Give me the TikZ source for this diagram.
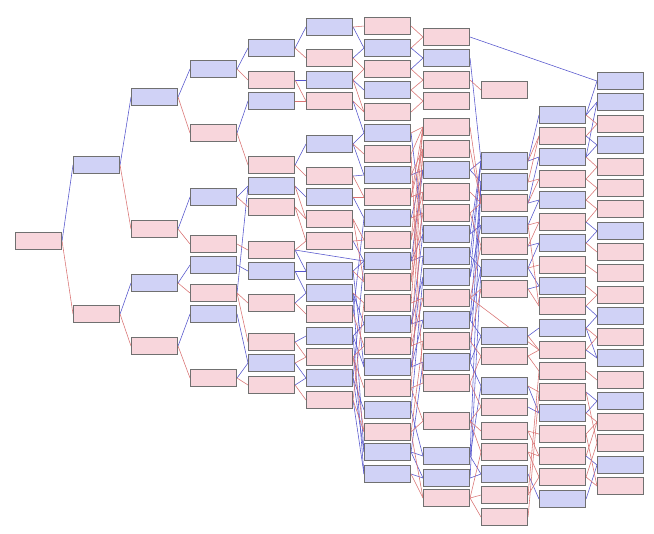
\documentclass[tikz,border=0pt]{standalone}
\usepackage{tikz}
\usetikzlibrary{backgrounds}
\definecolor{BoxBlue} {RGB}{208, 210, 246}
\definecolor{BoxPink} {RGB}{248, 214, 220}
\definecolor{BoxLine} {RGB}{112, 112, 112}
\definecolor{EdgeBlue}{RGB}{ 85,  85, 205}
\definecolor{EdgeRed} {RGB}{218, 115, 115}

\begin{document}
\begin{tikzpicture}[
  x=0.5mm, y=-0.5mm,
  box/.style={
    draw=BoxLine, line width=1.5pt,
    rectangle, anchor=north west, inner sep=0pt,
    minimum width=23mm, minimum height=8.5mm
  },
  blue box/.style={box, fill=BoxBlue},
  pink box/.style={box, fill=BoxPink},
  bline/.style={EdgeBlue, line width=0.8pt},
  rline/.style={EdgeRed, line width=0.8pt}
]
\useasboundingbox (0,0) rectangle (654,533);

% columns of the tree, left to right
\foreach \y/\k [count=\i] in {232/pink}
  \node[\k\space box] (c0-\i) at (15,\y) {};
\foreach \y/\k [count=\i] in {156/blue,305/pink}
  \node[\k\space box] (c1-\i) at (73,\y) {};
\foreach \y/\k [count=\i] in {88/blue,220/pink,274/blue,337/pink}
  \node[\k\space box] (c2-\i) at (131,\y) {};
\foreach \y/\k [count=\i] in {60/blue,124/pink,188/blue,235/pink,
    256/blue,284/pink,305/blue,369/pink}
  \node[\k\space box] (c3-\i) at (190,\y) {};
\foreach \y/\k [count=\i] in {39/blue,71/pink,92/blue,156/pink,
    177/blue,198/pink,241/pink,262/blue,294/pink,333/pink,354/blue,
    376/pink}
  \node[\k\space box] (c4-\i) at (248,\y) {};
\foreach \y/\k [count=\i] in {18/blue,49/pink,71/blue,92/pink,
    135/blue,167/pink,188/blue,210/pink,232/pink,262/blue,284/blue,
    305/pink,327/blue,348/pink,369/blue,391/pink}
  \node[\k\space box] (c5-\i) at (306,\y) {};
\foreach \y/\k [count=\i] in {17/pink,39/blue,60/pink,81/blue,
    103/pink,124/blue,145/pink,166/blue,188/pink,209/blue,231/pink,
    252/blue,273/pink,294/pink,315/blue,337/pink,358/blue,379/pink,
    401/blue,423/pink,443/blue,465/blue}
  \node[\k\space box] (c6-\i) at (364,\y) {};
\foreach \y/\k [count=\i] in {28/pink,49/blue,71/pink,92/pink,
    118/pink,140/pink,161/blue,183/pink,204/pink,225/blue,247/blue,
    268/blue,289/pink,311/blue,332/pink,353/blue,374/pink,412/pink,
    447/blue,469/blue,489/pink}
  \node[\k\space box] (c7-\i) at (423,\y) {};
\foreach \y/\k [count=\i] in {81/pink,152/blue,173/blue,194/pink,
    216/blue,237/pink,259/blue,280/pink,327/blue,347/pink,377/blue,
    398/pink,422/pink,443/pink,465/blue,486/pink,508/pink}
  \node[\k\space box] (c8-\i) at (481,\y) {};
\foreach \y/\k [count=\i] in {106/blue,127/pink,148/blue,170/pink,
    191/blue,213/pink,234/blue,256/pink,277/blue,297/pink,319/blue,
    341/pink,362/pink,383/pink,404/blue,425/pink,447/pink,468/pink,
    490/blue}
  \node[\k\space box] (c9-\i) at (539,\y) {};
\foreach \y/\k [count=\i] in {72/blue,93/blue,115/pink,136/blue,
    158/pink,179/pink,200/pink,222/blue,243/pink,264/pink,286/pink,
    307/blue,328/pink,349/blue,371/pink,392/blue,413/pink,434/pink,
    456/blue,477/pink}
  \node[\k\space box] (c10-\i) at (597,\y) {};

\begin{pgfonlayer}{background}
\fill[white] (0,0) rectangle (654,533);

% edges into blue boxes
\foreach \a/\b in {
    c0-1/c1-1, c1-1/c2-1, c1-2/c2-3, c2-1/c3-1, c2-2/c3-3, c2-3/c3-5,
    c2-4/c3-7, c3-1/c4-1, c3-2/c4-3, c3-3/c4-5, c3-5/c4-8, c3-8/c4-11,
    c3-6/c4-5, c3-7/c4-11,
    c4-1/c5-1, c4-2/c5-3, c4-4/c5-5, c4-5/c5-7, c4-7/c5-10, c4-8/c5-10,
    c4-8/c5-11, c4-9/c5-11, c4-10/c5-13, c4-11/c5-15, c4-12/c5-15,
    c4-7/c6-12,
    c5-1/c6-2, c5-2/c6-2, c5-3/c6-4, c5-4/c6-6, c5-5/c6-6, c5-6/c6-8,
    c5-5/c6-8, c5-7/c6-10, c5-12/c6-10, c5-9/c6-12, c5-10/c6-12,
    c5-15/c6-12, c5-11/c6-15, c5-13/c6-15, c5-13/c6-17, c5-10/c6-17,
    c5-15/c6-19, c5-15/c6-21, c5-11/c6-21, c5-16/c6-22, c5-13/c6-22,
    c6-2/c7-2, c6-3/c7-2, c6-8/c7-7, c6-10/c7-7, c6-12/c7-7,
    c6-12/c7-10, c6-15/c7-10, c6-6/c7-10, c6-12/c7-11, c6-17/c7-11,
    c6-15/c7-12, c6-19/c7-12, c6-15/c7-14, c6-17/c7-14, c6-17/c7-16,
    c6-21/c7-16, c6-19/c7-19, c6-21/c7-19, c6-21/c7-20, c6-22/c7-20,
    c7-2/c8-2, c7-7/c8-2, c7-10/c8-2, c7-11/c8-2, c7-12/c8-2,
    c7-7/c8-3, c7-14/c8-3, c7-16/c8-3, c7-19/c8-3, c7-10/c8-5,
    c7-12/c8-5, c7-11/c8-7, c7-14/c8-7, c7-20/c8-7, c7-16/c8-9,
    c7-14/c8-9, c7-16/c8-11, c7-19/c8-11, c7-19/c8-15, c7-20/c8-15,
    c7-1/c10-1,
    c8-2/c9-1, c8-2/c9-3, c8-4/c9-3, c8-4/c9-5, c8-5/c9-5, c8-6/c9-7,
    c8-7/c9-7, c8-7/c9-9, c8-8/c9-9, c8-9/c9-11, c8-11/c9-15,
    c8-12/c9-15, c8-15/c9-19,
    c9-1/c10-1, c9-1/c10-2, c9-3/c10-2, c9-2/c10-4, c9-3/c10-4,
    c9-6/c10-8, c9-7/c10-8, c9-10/c10-12, c9-11/c10-12, c9-12/c10-14,
    c9-11/c10-14, c9-14/c10-16, c9-15/c10-16, c9-17/c10-19,
    c9-19/c10-19}
  \draw[bline] (\a.east) -- (\b.west);

% edges into pink boxes
\foreach \a/\b in {
    c0-1/c1-2, c1-1/c2-2, c1-2/c2-4, c2-1/c3-2, c2-2/c3-4, c2-3/c3-6,
    c2-4/c3-8, c3-1/c4-2, c3-2/c4-4, c3-3/c4-6, c3-4/c4-7, c3-6/c4-9,
    c3-6/c4-10, c3-8/c4-12,
    c4-1/c5-2, c4-2/c5-4, c4-3/c5-4, c4-4/c5-6, c4-5/c5-8, c4-6/c5-8,
    c4-6/c5-9, c4-7/c5-9, c4-9/c5-12, c4-10/c5-14, c4-11/c5-14,
    c4-12/c5-16,
    c5-1/c6-1, c5-2/c6-3, c5-3/c6-3, c5-4/c6-5, c5-3/c6-5, c5-5/c6-7,
    c5-6/c6-9, c5-7/c6-9, c5-8/c6-11, c5-9/c6-11, c5-10/c6-13,
    c5-8/c6-13, c5-11/c6-14, c5-16/c6-14, c5-12/c6-16, c5-14/c6-16,
    c5-14/c6-18, c5-16/c6-20, c5-14/c6-20,
    c6-1/c7-1, c6-2/c7-1, c6-3/c7-3, c6-4/c7-3, c6-4/c7-4, c6-5/c7-4,
    c6-6/c7-5, c6-7/c7-5, c6-9/c7-5, c6-11/c7-5, c6-13/c7-5,
    c6-8/c7-6, c6-9/c7-6, c6-14/c7-6, c6-16/c7-6, c6-9/c7-8,
    c6-11/c7-8, c6-18/c7-8, c6-10/c7-9, c6-13/c7-9, c6-14/c7-13,
    c6-16/c7-13, c6-16/c7-15, c6-20/c7-15, c6-18/c7-17, c6-7/c7-17,
    c6-20/c7-18, c6-18/c7-18, c6-20/c7-21, c6-22/c7-21,
    c7-3/c8-1, c7-5/c8-4, c7-6/c8-4, c7-8/c8-4, c7-9/c8-4, c7-9/c8-6,
    c7-13/c8-6, c7-13/c8-8, c7-15/c8-8, c7-15/c8-10, c7-17/c8-10,
    c7-17/c8-12, c7-18/c8-12, c7-18/c8-13, c7-18/c8-14, c7-21/c8-14,
    c7-21/c8-16, c7-21/c8-17, c7-13/c9-12,
    c8-2/c9-2, c8-3/c9-2, c8-3/c9-4, c8-4/c9-4, c8-5/c9-6, c8-6/c9-6,
    c8-7/c9-8, c8-8/c9-10, c8-5/c9-10, c8-9/c9-12, c8-10/c9-12,
    c8-10/c9-13, c8-16/c9-13, c8-11/c9-14, c8-17/c9-14, c8-13/c9-16,
    c8-13/c9-17, c8-14/c9-17, c8-14/c9-18, c8-16/c9-18,
    c9-1/c10-3, c9-2/c10-3, c9-3/c10-5, c9-4/c10-5, c9-4/c10-6,
    c9-5/c10-6, c9-5/c10-7, c9-6/c10-7, c9-7/c10-9, c9-8/c10-10,
    c9-9/c10-11, c9-10/c10-11, c9-11/c10-13, c9-12/c10-13,
    c9-13/c10-15, c9-15/c10-17, c9-16/c10-17, c9-17/c10-17,
    c9-14/c10-18, c9-18/c10-18, c9-16/c10-20, c9-18/c10-20}
  \draw[rline] (\a.east) -- (\b.west);
\end{pgfonlayer}

\end{tikzpicture}
\end{document}
